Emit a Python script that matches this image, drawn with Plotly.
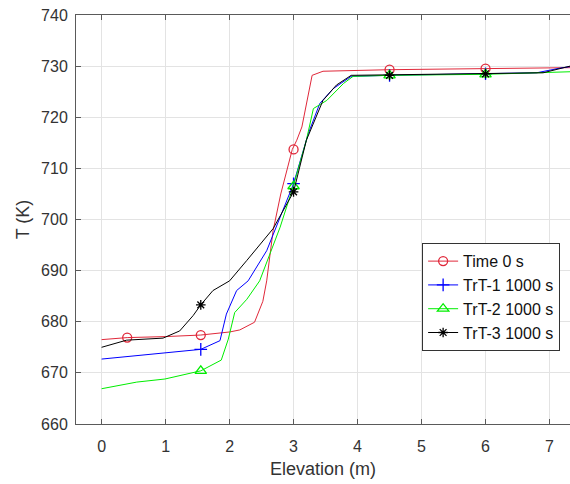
import plotly.graph_objects as go

# ---- data ----
red_x = [0, 0.4, 1.0, 1.55, 2.0, 2.16, 2.39, 2.52, 2.58, 2.68, 2.8, 2.93, 2.98, 3.05, 3.13, 3.29, 3.46, 4.5, 6.0, 7.32]
red_y = [676.5, 676.9, 677.1, 677.4, 678.0, 678.4, 679.9, 684.0, 688.0, 697.8, 705.0, 711.6, 713.7, 715.5, 718.1, 728.2, 729.0, 729.3, 729.5, 729.7]

blue_x = [0, 0.55, 1.0, 1.55, 1.85, 1.95, 2.11, 2.29, 2.58, 3.0, 3.23, 3.41, 3.62, 3.9, 4.5, 6.0, 6.8, 7.16, 7.32]
blue_y = [672.7, 673.4, 674.0, 674.6, 676.3, 681.5, 686.1, 688.0, 693.9, 707.0, 716.8, 722.7, 725.6, 728.0, 728.2, 728.5, 728.7, 729.6, 729.9]

green_x = [0, 0.28, 0.55, 0.99, 1.55, 1.87, 1.98, 2.08, 2.27, 2.47, 2.79, 3.0, 3.2, 3.31, 3.52, 3.78, 3.93, 4.5, 6.0, 7.32]
green_y = [666.9, 667.6, 668.2, 668.8, 670.4, 672.5, 676.6, 681.8, 684.4, 688.0, 698.5, 706.7, 715.5, 721.7, 723.3, 726.6, 728.0, 728.2, 728.4, 728.9]

black_x = [0, 0.39, 0.96, 1.22, 1.43, 1.55, 1.74, 2.0, 2.27, 2.68, 3.0, 3.2, 3.46, 3.67, 3.9, 4.5, 6.0, 6.9, 7.32]
black_y = [675.0, 676.4, 676.8, 678.2, 681.2, 683.3, 686.1, 688.0, 692.0, 698.2, 705.4, 715.5, 723.3, 726.3, 728.2, 728.3, 728.5, 728.7, 730.0]

red_mx = [0.4, 1.55, 3.0, 4.5, 6.0]
red_my = [676.9, 677.4, 713.7, 729.3, 729.5]
blue_mx = [1.55, 3.0, 4.5, 6.0]
blue_my = [674.6, 707.0, 728.2, 728.5]
green_mx = [1.55, 3.0, 4.5, 6.0]
green_my = [670.4, 706.5, 728.2, 728.4]
black_mx = [1.55, 3.0, 4.5, 6.0]
black_my = [683.3, 705.4, 728.2, 728.5]

names = ["Time 0 s", "TrT-1 1000 s", "TrT-2 1000 s", "TrT-3 1000 s"]
x_ticks = [0, 1, 2, 3, 4, 5, 6, 7]
y_ticks = [660, 670, 680, 690, 700, 710, 720, 730, 740]

series = [
    (names[0], red_x, red_y, red_mx, red_my, "#e0283a", "circle-open", 9),
    (names[1], blue_x, blue_y, blue_mx, blue_my, "#0000ff", "cross-thin-open", 9),
    (names[2], green_x, green_y, green_mx, green_my, "#00ee00", "triangle-up-open", 10),
    (names[3], black_x, black_y, black_mx, black_my, "#000000", "asterisk-open", 8),
]

fig = go.Figure()
for name, lx, ly, mx, my, col, sym, sz in series:
    fig.add_trace(go.Scatter(x=lx, y=ly, mode="lines", line=dict(color=col, width=1),
                             showlegend=False, hoverinfo="skip"))
    fig.add_trace(go.Scatter(x=mx, y=my, mode="markers",
                             marker=dict(symbol=sym, size=sz, color=col, line=dict(color=col, width=1.3)),
                             showlegend=False))
    fig.add_trace(go.Scatter(x=[None], y=[None], mode="lines+markers", name=name,
                             line=dict(color=col, width=1),
                             marker=dict(symbol=sym, size=sz, color=col, line=dict(color=col, width=1.3))))

axis_common = dict(
    showgrid=True, gridcolor="#e3e3e3", gridwidth=1,
    showline=True, linecolor="#5a5a5a", linewidth=1,
    ticks="inside", ticklen=5, tickcolor="#5a5a5a",
    zeroline=False, tickfont=dict(size=16, color="#333333"),
)

fig.update_layout(
    width=570, height=484,
    margin=dict(l=76, r=0, t=15, b=60),
    paper_bgcolor="white", plot_bgcolor="white",
    font=dict(family="Liberation Sans, Arial, sans-serif", color="#333333"),
    xaxis=dict(range=[-0.4, 7.32], tickvals=x_ticks, mirror="ticks", ticklabelstandoff=8,
               title=dict(text="Elevation (m)", font=dict(size=18), standoff=8), **axis_common),
    yaxis=dict(range=[660, 740], tickvals=y_ticks, mirror=False, ticklabelstandoff=4,
               title=dict(text="T (K)", font=dict(size=18), standoff=6), **axis_common),
    legend=dict(x=0.98, y=0.31, xanchor="right", yanchor="middle",
                bgcolor="white", bordercolor="#333333", borderwidth=1,
                font=dict(size=16, color="#111111"), tracegroupgap=0,
                itemwidth=30),
)

fig.write_html("out.html")
